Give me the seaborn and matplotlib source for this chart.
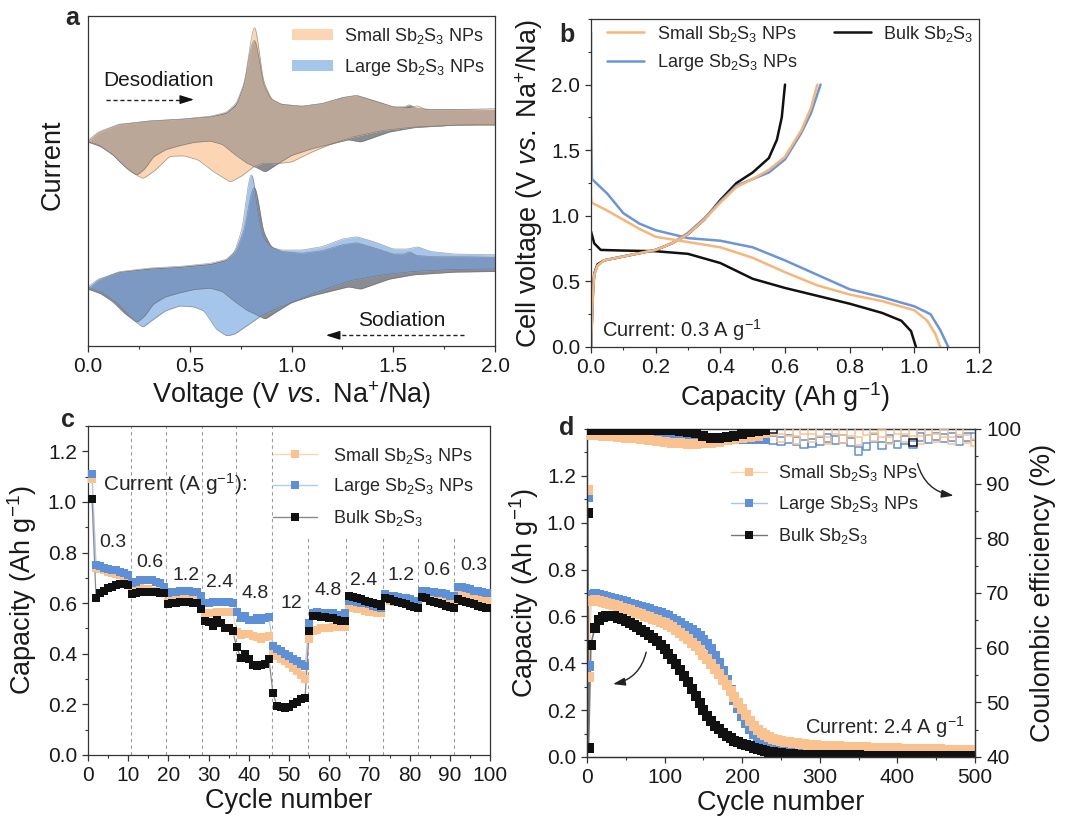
import numpy as np
import matplotlib
matplotlib.use('Agg')
import matplotlib.pyplot as plt
import seaborn as sns
from matplotlib.lines import Line2D
from matplotlib.patches import Patch
from matplotlib.ticker import MultipleLocator

# ── data: panel a (CV, arbitrary current units) ──
a_small_up_v = [0.0, 0.05, 0.15, 0.30, 0.45, 0.60, 0.68, 0.73, 0.77, 0.80, 0.82, 0.84, 0.86, 0.90, 0.95,
                1.05, 1.15, 1.25, 1.32, 1.40, 1.50, 1.58, 1.62, 1.66, 1.80, 2.00]
a_small_up_i = [-0.20, 0.05, 0.28, 0.38, 0.43, 0.50, 0.60, 0.85, 1.50, 2.80, 3.35, 2.55, 1.60, 1.05, 0.88,
                0.82, 0.90, 1.08, 1.15, 1.00, 0.80, 0.78, 0.84, 0.72, 0.72, 0.75]
a_small_lo_v = [0.0, 0.05, 0.12, 0.20, 0.27, 0.33, 0.40, 0.47, 0.54, 0.62, 0.70, 0.76, 0.81, 0.86, 0.92,
                1.00, 1.10, 1.20, 1.30, 1.45, 1.60, 1.80, 2.00]
a_small_lo_i = [-0.25, -0.32, -0.62, -1.10, -1.35, -1.10, -0.68, -0.66, -0.78, -1.15, -1.45, -1.25, -1.00,
                -0.88, -0.90, -0.85, -0.55, -0.30, -0.10, 0.10, 0.20, 0.25, 0.25]

a_large_up_v = [0.0, 0.05, 0.15, 0.30, 0.45, 0.60, 0.68, 0.72, 0.76, 0.78, 0.80, 0.815, 0.83, 0.86, 0.90,
                0.95, 1.05, 1.15, 1.25, 1.32, 1.40, 1.50, 1.57, 1.62, 1.68, 1.80, 2.00]
a_large_up_i = [-0.18, 0.05, 0.25, 0.35, 0.40, 0.48, 0.60, 0.85, 1.60, 2.60, 3.30, 3.05, 2.20, 1.30, 1.00,
                0.92, 0.92, 1.02, 1.25, 1.32, 1.18, 0.95, 0.95, 1.02, 0.88, 0.80, 0.78]
a_large_lo_v = [0.0, 0.07, 0.15, 0.22, 0.27, 0.30, 0.38, 0.45, 0.52, 0.57, 0.63, 0.68, 0.72, 0.78, 0.85,
                0.92, 1.00, 1.10, 1.20, 1.30, 1.45, 1.60, 1.80, 2.00]
a_large_lo_i = [-0.20, -0.35, -0.70, -1.15, -1.40, -1.25, -0.90, -0.75, -0.78, -0.90, -1.45, -1.65, -1.60,
                -1.35, -1.05, -0.85, -0.65, -0.40, -0.18, 0.02, 0.18, 0.28, 0.34, 0.35]

a_bulk_up_v = [0.0, 0.05, 0.15, 0.30, 0.45, 0.60, 0.68, 0.73, 0.77, 0.80, 0.82, 0.84, 0.86, 0.90, 0.95,
               1.05, 1.15, 1.25, 1.32, 1.40, 1.50, 1.555, 1.58, 1.61, 1.70, 1.85, 2.00]
a_bulk_up_i = [-0.25, 0.02, 0.27, 0.38, 0.43, 0.52, 0.64, 0.92, 1.55, 2.60, 2.90, 2.30, 1.50, 1.02, 0.88,
               0.82, 0.90, 1.08, 1.14, 1.00, 0.80, 0.80, 0.88, 0.76, 0.72, 0.72, 0.70]
a_bulk_lo_v = [0.0, 0.06, 0.12, 0.18, 0.24, 0.28, 0.32, 0.38, 0.45, 0.52, 0.60, 0.66, 0.72, 0.78, 0.83,
               0.87, 0.92, 1.00, 1.10, 1.20, 1.28, 1.34, 1.40, 1.48, 1.60, 1.80, 2.00]
a_bulk_lo_i = [-0.25, -0.38, -0.62, -0.98, -1.25, -1.05, -0.70, -0.48, -0.36, -0.26, -0.22, -0.32, -0.62,
               -0.88, -1.02, -1.15, -0.95, -0.65, -0.45, -0.30, -0.18, -0.25, -0.12, 0.05, 0.18, 0.26, 0.28]
a_offset = -4.4   # vertical stacking of the lower (large) group

# ── data: panel b (charge/discharge, 0.3 A/g) ──
b_small_dis_c = [0.0, 0.0, 0.002, 0.05, 0.1, 0.15, 0.2, 0.3, 0.4, 0.5, 0.6, 0.7, 0.8, 0.9, 1.0, 1.04, 1.065, 1.08]
b_small_dis_v = [1.75, 1.15, 1.10, 1.04, 0.97, 0.90, 0.84, 0.80, 0.76, 0.68, 0.57, 0.47, 0.40, 0.35, 0.28, 0.20, 0.10, 0.0]
b_small_ch_c = [0.0, 0.003, 0.006, 0.01, 0.02, 0.04, 0.1, 0.2, 0.25, 0.3, 0.35, 0.4, 0.45, 0.5, 0.55, 0.6, 0.65, 0.68, 0.70]
b_small_ch_v = [0.0, 0.20, 0.40, 0.55, 0.62, 0.66, 0.69, 0.74, 0.79, 0.86, 0.97, 1.10, 1.22, 1.28, 1.35, 1.45, 1.65, 1.82, 2.0]
b_large_dis_c = [0.0, 0.0, 0.003, 0.02, 0.05, 0.1, 0.15, 0.2, 0.3, 0.4, 0.5, 0.6, 0.7, 0.8, 0.9, 1.0, 1.05, 1.08, 1.105]
b_large_dis_v = [2.40, 1.75, 1.28, 1.24, 1.17, 1.02, 0.94, 0.89, 0.83, 0.81, 0.76, 0.66, 0.55, 0.44, 0.38, 0.31, 0.25, 0.13, 0.0]
b_large_ch_c = [0.0, 0.003, 0.006, 0.01, 0.02, 0.04, 0.1, 0.2, 0.25, 0.3, 0.35, 0.4, 0.45, 0.5, 0.55, 0.6, 0.65, 0.68, 0.71]
b_large_ch_v = [0.0, 0.20, 0.40, 0.55, 0.62, 0.66, 0.69, 0.74, 0.79, 0.87, 0.98, 1.11, 1.23, 1.28, 1.33, 1.43, 1.63, 1.78, 2.0]
b_bulk_dis_c = [0.0, 0.01, 0.03, 0.1, 0.2, 0.3, 0.4, 0.5, 0.6, 0.7, 0.8, 0.9, 0.96, 0.99, 1.005]
b_bulk_dis_v = [0.88, 0.79, 0.74, 0.735, 0.73, 0.71, 0.64, 0.52, 0.45, 0.39, 0.33, 0.26, 0.20, 0.12, 0.0]
b_bulk_ch_c = [0.0, 0.003, 0.006, 0.01, 0.02, 0.04, 0.1, 0.2, 0.25, 0.3, 0.35, 0.4, 0.45, 0.5, 0.55, 0.575, 0.59, 0.60]
b_bulk_ch_v = [0.0, 0.22, 0.42, 0.56, 0.63, 0.66, 0.69, 0.74, 0.79, 0.86, 0.97, 1.12, 1.25, 1.33, 1.44, 1.58, 1.75, 2.0]

# ── data: panel c (rate capability) ──
c_cycles = list(range(1, 101))
c_small = [1.09,
           0.74, 0.735, 0.73, 0.725, 0.72, 0.715, 0.71, 0.70, 0.70,
           0.665, 0.66, 0.66, 0.655, 0.655, 0.65, 0.65, 0.65, 0.64,
           0.605, 0.61, 0.615, 0.615, 0.615, 0.615, 0.615, 0.61, 0.60,
           0.555, 0.56, 0.56, 0.565, 0.565, 0.565, 0.565, 0.565,
           0.485, 0.475, 0.48, 0.48, 0.47, 0.465, 0.46, 0.465, 0.47,
           0.40, 0.39, 0.38, 0.37, 0.36, 0.345, 0.33, 0.315, 0.30,
           0.46, 0.49, 0.495, 0.50, 0.50, 0.50, 0.505, 0.505, 0.505, 0.505,
           0.58, 0.58, 0.575, 0.575, 0.57, 0.565, 0.565, 0.56, 0.56,
           0.615, 0.61, 0.605, 0.605, 0.60, 0.60, 0.595, 0.59, 0.585,
           0.635, 0.63, 0.625, 0.62, 0.615, 0.61, 0.605, 0.60, 0.595,
           0.655, 0.645, 0.64, 0.635, 0.63, 0.625, 0.62, 0.615, 0.61]
c_large = [1.11,
           0.75, 0.745, 0.74, 0.735, 0.73, 0.73, 0.725, 0.72, 0.71,
           0.68, 0.685, 0.69, 0.69, 0.69, 0.69, 0.685, 0.68, 0.665,
           0.64, 0.645, 0.645, 0.65, 0.65, 0.65, 0.645, 0.645, 0.63,
           0.60, 0.60, 0.605, 0.605, 0.605, 0.605, 0.605, 0.60,
           0.565, 0.54, 0.55, 0.535, 0.535, 0.54, 0.535, 0.54, 0.545,
           0.43, 0.42, 0.41, 0.40, 0.39, 0.38, 0.37, 0.36, 0.35,
           0.52, 0.56, 0.565, 0.56, 0.56, 0.56, 0.56, 0.555, 0.555, 0.56,
           0.61, 0.61, 0.605, 0.60, 0.60, 0.595, 0.59, 0.585, 0.58,
           0.635, 0.63, 0.63, 0.625, 0.62, 0.62, 0.615, 0.61, 0.61,
           0.65, 0.65, 0.645, 0.645, 0.64, 0.64, 0.635, 0.63, 0.63,
           0.665, 0.665, 0.66, 0.655, 0.65, 0.65, 0.645, 0.64, 0.64]
c_bulk = [1.01,
          0.62, 0.64, 0.65, 0.66, 0.665, 0.67, 0.675, 0.675, 0.67,
          0.635, 0.64, 0.645, 0.645, 0.645, 0.645, 0.645, 0.64, 0.64,
          0.595, 0.60, 0.60, 0.605, 0.605, 0.605, 0.60, 0.60, 0.575,
          0.53, 0.525, 0.51, 0.535, 0.52, 0.50, 0.50, 0.49,
          0.425, 0.385, 0.40, 0.38, 0.355, 0.35, 0.355, 0.36, 0.38,
          0.245, 0.195, 0.19, 0.185, 0.19, 0.20, 0.21, 0.22, 0.225,
          0.49, 0.55, 0.55, 0.545, 0.545, 0.54, 0.54, 0.535, 0.53, 0.53,
          0.63, 0.625, 0.62, 0.615, 0.61, 0.605, 0.60, 0.595, 0.59,
          0.62, 0.615, 0.61, 0.605, 0.60, 0.595, 0.59, 0.585, 0.58,
          0.625, 0.62, 0.61, 0.605, 0.60, 0.595, 0.59, 0.585, 0.58,
          0.615, 0.61, 0.605, 0.60, 0.595, 0.59, 0.585, 0.58, 0.58]
c_bounds = [10.6, 19.5, 28.4, 36.9, 45.8, 54.8, 64.3, 73.3, 82.2, 91.0]
c_rates = ['0.3', '0.6', '1.2', '2.4', '4.8', '12', '4.8', '2.4', '1.2', '0.6', '0.3']

# ── data: panel d (long cycling, 2.4 A/g) ──
d_cycles = [1, 2] + list(range(5, 501, 5))
d_large = [1.11, 0.39,
           0.690, 0.695, 0.692, 0.688, 0.684, 0.680, 0.676, 0.671, 0.666, 0.660,
           0.655, 0.650, 0.645, 0.640, 0.635, 0.630, 0.625, 0.620, 0.615, 0.608,
           0.600, 0.590, 0.580, 0.570, 0.560, 0.550, 0.540, 0.528, 0.515, 0.500,
           0.482, 0.460, 0.432, 0.400, 0.365, 0.330, 0.288, 0.245, 0.208, 0.175,
           0.145, 0.120, 0.097, 0.078, 0.064, 0.053, 0.046, 0.040, 0.035, 0.031,
           0.028, 0.025, 0.023, 0.021, 0.020, 0.018, 0.017, 0.016, 0.015, 0.015,
           0.014, 0.014, 0.013, 0.013, 0.013, 0.012, 0.012, 0.012, 0.012, 0.011,
           0.011, 0.011, 0.011, 0.010, 0.010, 0.010, 0.010, 0.010, 0.010, 0.010,
           0.010, 0.009, 0.009, 0.009, 0.009, 0.009, 0.009, 0.009, 0.009, 0.009,
           0.009, 0.009, 0.008, 0.008, 0.008, 0.008, 0.008, 0.008, 0.008, 0.008]
d_small = [1.14, 0.34,
           0.665, 0.668, 0.664, 0.660, 0.656, 0.652, 0.648, 0.643, 0.638, 0.632,
           0.627, 0.621, 0.615, 0.609, 0.603, 0.597, 0.591, 0.585, 0.578, 0.572,
           0.563, 0.553, 0.542, 0.530, 0.517, 0.503, 0.488, 0.472, 0.455, 0.437,
           0.418, 0.398, 0.376, 0.353, 0.330, 0.306, 0.282, 0.258, 0.232, 0.205,
           0.178, 0.152, 0.132, 0.115, 0.102, 0.092, 0.084, 0.078, 0.073, 0.068,
           0.065, 0.062, 0.060, 0.058, 0.056, 0.054, 0.053, 0.051, 0.050, 0.049,
           0.048, 0.047, 0.046, 0.046, 0.045, 0.044, 0.044, 0.043, 0.042, 0.042,
           0.041, 0.041, 0.040, 0.040, 0.039, 0.039, 0.038, 0.038, 0.037, 0.037,
           0.036, 0.036, 0.035, 0.035, 0.035, 0.034, 0.034, 0.034, 0.033, 0.033,
           0.033, 0.032, 0.032, 0.032, 0.031, 0.031, 0.031, 0.030, 0.030, 0.030]
d_bulk = [1.04, 0.04,
          0.480, 0.550, 0.585, 0.598, 0.603, 0.603, 0.600, 0.595, 0.588, 0.580,
          0.572, 0.563, 0.553, 0.543, 0.532, 0.520, 0.508, 0.495, 0.478, 0.460,
          0.440, 0.420, 0.398, 0.373, 0.347, 0.320, 0.290, 0.260, 0.230, 0.200,
          0.175, 0.152, 0.134, 0.118, 0.103, 0.090, 0.080, 0.070, 0.062, 0.056,
          0.050, 0.045, 0.040, 0.035, 0.031, 0.027, 0.023, 0.020, 0.018, 0.016,
          0.014, 0.012, 0.011, 0.010, 0.010, 0.009, 0.009, 0.008, 0.008, 0.008,
          0.007, 0.007, 0.007, 0.007, 0.007, 0.007, 0.007, 0.007, 0.007, 0.007,
          0.006, 0.006, 0.006, 0.006, 0.006, 0.006, 0.006, 0.006, 0.006, 0.006,
          0.006, 0.006, 0.006, 0.006, 0.006, 0.005, 0.005, 0.005, 0.005, 0.005,
          0.005, 0.005, 0.005, 0.005, 0.005, 0.005, 0.005, 0.005, 0.005, 0.005]
d_ce_cycles = [5] + list(range(10, 501, 10))
d_ce_small = [98.9, 98.9, 98.8, 98.7, 98.5, 98.4, 98.3, 98.1, 98.0, 97.8, 97.7,
              97.5, 97.4, 97.3, 97.3, 97.4, 97.5, 97.7, 97.9, 98.1, 98.3,
              98.5, 98.7, 99.3, 99.6, 98.3, 99.5, 98.0, 99.7, 98.4, 99.4,
              97.9, 99.8, 98.2, 99.5, 97.8, 99.6, 98.5, 99.2, 97.9, 99.7,
              98.3, 99.5, 98.0, 99.6, 98.4, 99.3, 97.9, 99.6, 98.2, 97.5]
d_ce_large = [99.9, 99.9, 99.9, 99.8, 99.8, 99.7, 99.7, 99.6, 99.5, 99.4, 99.3,
              99.1, 98.9, 98.7, 98.5, 98.4, 98.3, 98.2, 98.2, 98.1, 98.1,
              98.2, 98.2, 98.2, 98.0, 97.8, 98.2, 97.8, 97.3, 97.4, 97.8,
              98.3, 98.0, 98.2, 97.6, 96.0, 96.8, 98.3, 97.0, 98.2, 97.2,
              98.0, 97.2, 98.5, 98.2, 98.6, 98.4, 98.5, 97.8, 98.5, 98.6]
nan = np.nan
d_ce_bulk = [99.9, 99.9, 99.9, 99.9, 99.9, 99.9, 99.9, 99.9, 99.9, 99.9, 99.9,
             99.8, 99.7, 99.5, 99.2, 98.8, 98.4, 98.3, 98.5, 98.8, 99.1,
             99.4, 99.6, 99.8, 100.0, nan, nan, nan, nan, nan, nan,
             nan, nan, nan, nan, nan, nan, nan, nan, nan, nan,
             nan, 97.5, nan, nan, nan, nan, nan, nan, nan, nan]

labels = ['Small Sb$_2$S$_3$ NPs', 'Large Sb$_2$S$_3$ NPs', 'Bulk Sb$_2$S$_3$']

# ── style ──
sns.set_theme(style='ticks')
plt.rcParams['font.family'] = ['Liberation Sans', 'DejaVu Sans']
plt.rcParams.update({
    'mathtext.fontset': 'custom', 'mathtext.rm': 'Liberation Sans',
    'mathtext.it': 'Liberation Sans:italic', 'mathtext.bf': 'Liberation Sans:bold',
    'axes.edgecolor': '#333333', 'axes.linewidth': 0.9,
    'axes.labelsize': 19.5, 'axes.labelcolor': '#1a1a1a',
    'xtick.labelsize': 15, 'ytick.labelsize': 15,
    'xtick.color': '#333333', 'ytick.color': '#333333',
    'xtick.labelcolor': '#1a1a1a', 'ytick.labelcolor': '#1a1a1a',
})

W, H = 1069, 823
fig = plt.figure(figsize=(W / 100, H / 100), dpi=100)
ax_a = fig.add_axes([88 / W, 1 - 346 / H, 407 / W, 330 / H])
ax_b = fig.add_axes([591 / W, 1 - 347 / H, 388 / W, 328 / H])
ax_c = fig.add_axes([88 / W, 1 - 755 / H, 402 / W, 329 / H])
ax_d = fig.add_axes([587 / W, 1 - 757 / H, 388 / W, 328 / H])


def ticks(ax):
    ax.tick_params(which='major', direction='out', length=4.5, width=0.9)
    ax.tick_params(which='minor', direction='out', length=2.5, width=0.8)


# ── a: CV fills ──
PEACH, BROWN, GRAY = '#fcd6b4', '#bba797', '#8b8c91'
LBLUE, DBLUE = '#a6c5eb', '#7b99c2'
grid = np.linspace(0, 2, 1001)


def branch(v, i, sigma=0.007):
    y = np.interp(grid, v, i)
    step = grid[1] - grid[0]
    m = int(4 * sigma / step)
    k = np.arange(-m, m + 1) * step
    w = np.exp(-0.5 * (k / sigma) ** 2)
    w /= w.sum()
    return np.convolve(np.pad(y, m, mode='edge'), w, mode='valid')


def cv_group(ax, up_s, lo_s, up_b, lo_b, col_s, col_ov, off):
    ax.fill_between(grid, lo_b + off, up_b + off, color=GRAY, lw=0)
    ax.fill_between(grid, lo_s + off, up_s + off, color=col_s, lw=0)
    top, bot = np.minimum(up_s, up_b), np.maximum(lo_s, lo_b)
    ax.fill_between(grid, bot + off, np.maximum(top, bot) + off, color=col_ov, lw=0)
    for arr in (up_s, lo_s, up_b, lo_b):
        ax.plot(grid, arr + off, color='#6a6a6a', lw=0.5, alpha=0.6)


bu, bl = branch(a_bulk_up_v, a_bulk_up_i), branch(a_bulk_lo_v, a_bulk_lo_i)
cv_group(ax_a, branch(a_small_up_v, a_small_up_i), branch(a_small_lo_v, a_small_lo_i), bu, bl, PEACH, BROWN, 0)
cv_group(ax_a, branch(a_large_up_v, a_large_up_i), branch(a_large_lo_v, a_large_lo_i), bu, bl, LBLUE, DBLUE, a_offset)
ax_a.set_xlim(0, 2)
ax_a.set_ylim(-6.35, 3.52)
ax_a.set_yticks([])
ax_a.xaxis.set_major_locator(MultipleLocator(0.5))
ax_a.xaxis.set_minor_locator(MultipleLocator(0.25))
ax_a.set_xlabel(r'Voltage (V $\mathit{vs.}$ Na$^{+}$/Na)', labelpad=2)
ax_a.set_ylabel('Current')
ax_a.yaxis.set_label_coords(-0.055, 0.55)
ticks(ax_a)
ax_a.text(0.075, 1.6, 'Desodiation', fontsize=15, va='center', color='#1a1a1a')
ax_a.plot([0.09, 0.49], [1.02, 1.02], color='#222', lw=1, ls=(0, (3, 2)))
ax_a.annotate('', xy=(0.535, 1.02), xytext=(0.47, 1.02),
              arrowprops=dict(arrowstyle='-|>,head_length=0.7,head_width=0.22', color='#111', lw=1))
ax_a.text(1.54, -5.6, 'Sodiation', fontsize=15, va='center', ha='center', color='#1a1a1a')
ax_a.plot([1.85, 1.21], [-6.03, -6.03], color='#222', lw=1, ls=(0, (3, 2)))
ax_a.annotate('', xy=(1.155, -6.03), xytext=(1.23, -6.03),
              arrowprops=dict(arrowstyle='-|>,head_length=0.7,head_width=0.22', color='#111', lw=1))
ax_a.legend(handles=[Patch(facecolor=PEACH, edgecolor='none'), Patch(facecolor=LBLUE, edgecolor='none')],
            labels=labels[:2], loc='upper right', frameon=False, fontsize=13,
            handlelength=2.3, handleheight=0.6, labelspacing=0.6, borderaxespad=0.15, handletextpad=0.6)

# ── b: charge/discharge curves ──
ORANGE, BLUE, BLACK = '#f6b67a', '#6a95d8', '#111111'
for cx, vy, col in [(b_bulk_dis_c, b_bulk_dis_v, BLACK), (b_bulk_ch_c, b_bulk_ch_v, BLACK),
                    (b_large_dis_c, b_large_dis_v, BLUE), (b_large_ch_c, b_large_ch_v, BLUE),
                    (b_small_dis_c, b_small_dis_v, ORANGE), (b_small_ch_c, b_small_ch_v, ORANGE)]:
    sns.lineplot(x=cx, y=vy, sort=False, estimator=None, color=col, lw=1.8, ax=ax_b)
ax_b.set_xlim(0, 1.2)
ax_b.set_ylim(0, 2.5)
ax_b.set_yticks([0, 0.5, 1.0, 1.5, 2.0])
ax_b.xaxis.set_major_locator(MultipleLocator(0.2))
ax_b.xaxis.set_minor_locator(MultipleLocator(0.1))
ax_b.yaxis.set_minor_locator(MultipleLocator(0.25))
ax_b.set_xlabel(r'Capacity (Ah g$^{-1}$)', labelpad=2)
ax_b.set_ylabel(r'Cell voltage (V $\mathit{vs.}$ Na$^{+}$/Na)', labelpad=4)
ticks(ax_b)
ax_b.text(0.035, 0.13, r'Current: 0.3 A g$^{-1}$', fontsize=14.5, va='center')
ax_b.legend(handles=[Line2D([], [], color=ORANGE, lw=1.8), Line2D([], [], color=BLUE, lw=1.8),
                     Line2D([], [], color=BLACK, lw=1.8)],
            labels=labels, ncol=2, loc='upper left', bbox_to_anchor=(0.0, 1.035), frameon=False,
            fontsize=13, handlelength=2.05, labelspacing=0.45, columnspacing=2.0, handletextpad=0.7)

# ── c: rate capability ──
series_c = [(c_small, '#f9c28e', '#fbd4b0'), (c_large, '#5e90d8', '#b2c9ee'), (c_bulk, '#111111', '#8a8a8a')]
for vals, mc, lc in series_c:
    sns.lineplot(x=c_cycles, y=vals, sort=False, estimator=None, color=lc, lw=0.9, ax=ax_c, zorder=2)
    sns.scatterplot(x=c_cycles, y=vals, marker='s', s=26, color=mc, linewidth=0, ax=ax_c, zorder=3)
for k, xb in enumerate(c_bounds):
    ax_c.axvline(xb, ymax=1.0 if k < 5 else 0.665, color='#9a9a9a', lw=0.8, ls=(0, (3, 3)), zorder=1)
c_label_xy = [(6.2, 0.84), (15.4, 0.76), (24.5, 0.71), (32.8, 0.68), (41.5, 0.64), (50.6, 0.60),
              (59.8, 0.65), (68.5, 0.69), (78.0, 0.71), (86.7, 0.73), (95.9, 0.75)]
for txt, (tx, ty) in zip(c_rates, c_label_xy):
    ax_c.text(tx, ty, txt, fontsize=14, ha='center', va='center', zorder=4)
ax_c.text(3.7, 1.07, r'Current (A g$^{-1}$):', fontsize=15, va='center')
ax_c.set_xlim(0, 100)
ax_c.set_ylim(0, 1.3)
ax_c.set_yticks([0, 0.2, 0.4, 0.6, 0.8, 1.0, 1.2])
ax_c.xaxis.set_major_locator(MultipleLocator(10))
ax_c.xaxis.set_minor_locator(MultipleLocator(5))
ax_c.yaxis.set_minor_locator(MultipleLocator(0.1))
ax_c.set_xlabel('Cycle number', labelpad=2)
ax_c.set_ylabel(r'Capacity (Ah g$^{-1}$)', labelpad=6)
ticks(ax_c)
leg_handles = [Line2D([], [], color=lc, lw=1, marker='s', markersize=6, markerfacecolor=mc, markeredgewidth=0)
               for _, mc, lc in series_c]
ax_c.legend(handles=leg_handles, labels=labels, loc='upper right', bbox_to_anchor=(1.0, 0.99),
            frameon=False, fontsize=13, handlelength=2.4, labelspacing=0.6, handletextpad=0.9)

# ── d: long cycling + CE ──
ax_d2 = ax_d.twinx()
ce_x = np.array(d_ce_cycles)
early = ce_x <= 230   # dense early CE points look filled, later ones are open squares
series_d = [(d_large, d_ce_large, '#5e90d8', '#a9c3ec'), (d_small, d_ce_small, '#f9c28e', '#fbd4b0'),
            (d_bulk, d_ce_bulk, '#111111', '#777777')]
for cap, ce, mc, lc in series_d:
    ce = np.array(ce, dtype=float)
    sns.lineplot(x=d_cycles, y=cap, sort=False, estimator=None, color=lc, lw=1.2, ax=ax_d, zorder=2)
    sns.scatterplot(x=d_cycles, y=cap, marker='s', s=44, color=mc, linewidth=0, ax=ax_d, zorder=3)
    sns.scatterplot(x=ce_x[early], y=ce[early], marker='s', s=44, color=mc, linewidth=0, ax=ax_d2, zorder=3)
    sns.scatterplot(x=ce_x[~early], y=ce[~early], marker='s', s=30, facecolor='none', edgecolor=mc,
                    linewidth=1.1, ax=ax_d2, zorder=3)
ax_d.set_xlim(0, 500)
ax_d.set_ylim(0, 1.4)
ax_d.set_yticks([0, 0.2, 0.4, 0.6, 0.8, 1.0, 1.2])
ax_d.xaxis.set_major_locator(MultipleLocator(100))
ax_d.xaxis.set_minor_locator(MultipleLocator(50))
ax_d.yaxis.set_minor_locator(MultipleLocator(0.1))
ax_d2.set_ylim(40, 100)
ax_d2.yaxis.set_major_locator(MultipleLocator(10))
ax_d2.yaxis.set_minor_locator(MultipleLocator(5))
ax_d.set_xlabel('Cycle number', labelpad=2)
ax_d.set_ylabel(r'Capacity (Ah g$^{-1}$)', labelpad=4)
ax_d2.set_ylabel('Coulombic efficiency (%)', labelpad=6)
ticks(ax_d)
ticks(ax_d2)
ax_d2.text(487, 45.5, r'Current: 2.4 A g$^{-1}$', fontsize=14.5, ha='right', va='center')
ax_d.annotate('', xy=(476, 1.114), xytext=(425, 1.264),
              arrowprops=dict(arrowstyle='-|>,head_length=0.6,head_width=0.2', color='#222', lw=1,
                              connectionstyle='arc3,rad=0.35'))
ax_d.annotate('', xy=(30, 0.309), xytext=(77, 0.459),
              arrowprops=dict(arrowstyle='-|>,head_length=0.6,head_width=0.2', color='#222', lw=1,
                              connectionstyle='arc3,rad=-0.35'))
leg_d = [Line2D([], [], color=lc, lw=1, marker='s', markersize=6, markerfacecolor=mc, markeredgewidth=0)
         for _, _, mc, lc in [series_d[1], series_d[0], series_d[2]]]
ax_d2.legend(handles=leg_d, labels=labels, loc='upper left', bbox_to_anchor=(0.33, 0.945),
             frameon=False, fontsize=13, handlelength=2.0, labelspacing=0.6, handletextpad=0.6)

# panel letters
for lab, (px, py) in zip('abcd', [(72, 18), (567, 35), (68, 420), (567, 428)]):
    fig.text(px / W, 1 - py / H, lab, fontsize=18, fontweight='bold', ha='center', va='center')

fig.savefig('out.png', dpi=100)
